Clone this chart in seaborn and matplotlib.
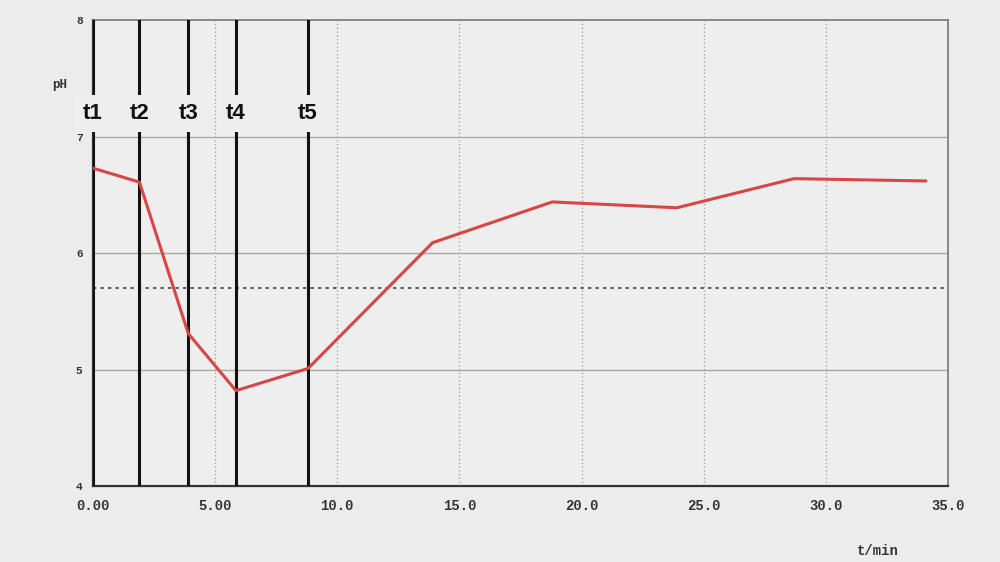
import matplotlib
matplotlib.use("Agg")
import matplotlib.pyplot as plt
import seaborn as sns
import pandas as pd

# pH curve
time_min = [0.0, 1.9, 3.9, 5.85, 8.8, 13.9, 18.8, 23.9, 28.7, 34.1]
ph = [6.73, 6.61, 5.31, 4.82, 5.01, 6.09, 6.44, 6.39, 6.64, 6.62]

# sampling moments
event_times = [0.0, 1.9, 3.9, 5.85, 8.8]
event_labels = ["t1", "t2", "t3", "t4", "t5"]

threshold = 5.7

x_ticks = [0, 5, 10, 15, 20, 25, 30, 35]
x_tick_labels = ["0.00", "5.00", "10.0", "15.0", "20.0", "25.0", "30.0", "35.0"]
y_ticks = [4, 5, 6, 7, 8]

bg = "#ececec"
sns.set_style("white")
plt.rcParams["font.family"] = ["Liberation Mono", "DejaVu Sans Mono"]

fig = plt.figure(figsize=(10, 5.62), dpi=100, facecolor=bg)
ax = fig.add_axes([0.093, 0.135, 0.855, 0.829])
ax.set_facecolor("#eeeeee")

df = pd.DataFrame({"t": time_min, "pH": ph})

# grid
for x in x_ticks[1:-1]:
    ax.axvline(x, color="#9a9a9a", lw=0.9, ls=(0, (1, 2)), zorder=1)
for y in y_ticks[1:-1]:
    ax.axhline(y, color="#a8a8a8", lw=1.0, zorder=1)

ax.axhline(threshold, color="#444444", lw=1.2, ls=(0, (2, 2.5)), zorder=2)

for t, lab in zip(event_times, event_labels):
    ax.axvline(t, color="#111111", lw=2.2, zorder=3)
    ax.text(t, 7.2, lab, ha="center", va="center", fontsize=16, fontweight="bold",
            family="Liberation Sans", color="#111111", zorder=4,
            bbox=dict(boxstyle="square,pad=0.35", fc="#eeeeee", ec="none"))

sns.lineplot(data=df, x="t", y="pH", ax=ax, color="#d94545", lw=2.2, zorder=5)

ax.set_xlim(0, 35)
ax.set_ylim(4, 8)
ax.set_xticks(x_ticks)
ax.set_xticklabels(x_tick_labels, fontsize=10, fontweight="bold", color="#333333")
ax.set_yticks(y_ticks)
ax.set_yticklabels([str(v) for v in y_ticks], fontsize=8, fontweight="bold", color="#333333")
ax.tick_params(axis="x", direction="inout", length=7, width=1.2, color="#333333", pad=6)
ax.tick_params(axis="y", direction="inout", length=5, width=1.0, color="#333333", pad=5)
ax.set_xlabel("")
ax.set_ylabel("")

for side in ["left", "bottom"]:
    ax.spines[side].set_color("#333333")
    ax.spines[side].set_linewidth(1.6)
for side in ["top", "right"]:
    ax.spines[side].set_color("#777777")
    ax.spines[side].set_linewidth(1.2)

fig.text(0.052, 0.848, "pH", fontsize=9, fontweight="bold", color="#333333", ha="left", va="center")
fig.text(0.878, 0.02, "t/min", fontsize=10, fontweight="bold", color="#333333", ha="center", va="center")

fig.savefig("out.png", dpi=100, facecolor=bg)
